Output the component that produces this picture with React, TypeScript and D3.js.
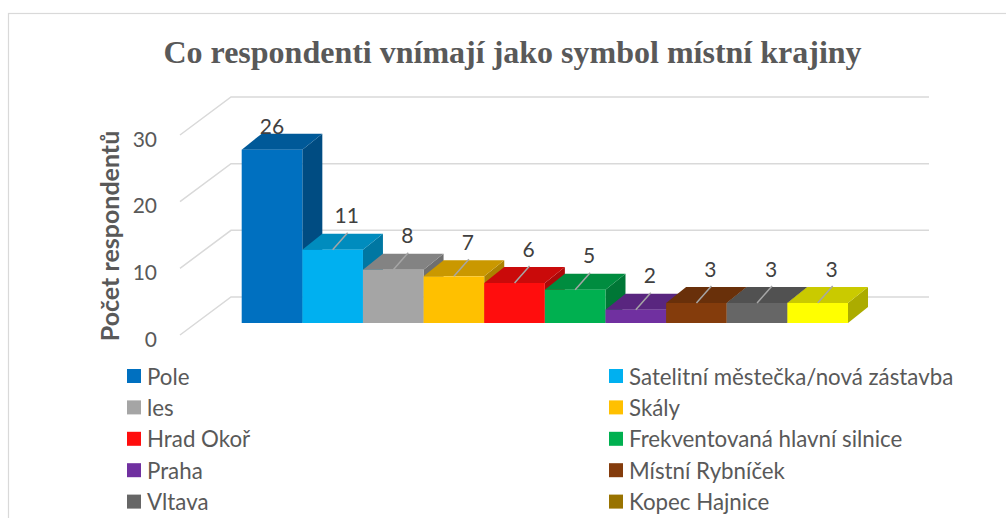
import React from "react";
import * as d3 from "d3";

const categories = [
  "Pole",
  "Satelitní městečka/nová zástavba",
  "les",
  "Skály",
  "Hrad Okoř",
  "Frekventovaná hlavní silnice",
  "Praha",
  "Místní Rybníček",
  "Vltava",
  "Kopec Hajnice",
];
const values = [26, 11, 8, 7, 6, 5, 2, 3, 3, 3];
const yTicks = [0, 10, 20, 30];
const barColors = [
  "#0070C0", "#00B0F0", "#A5A5A5", "#FFC000", "#FF0D0D",
  "#00B050", "#7030A0", "#843C0C", "#666666", "#FFFF00",
];
const legendColors = [
  "#0070C0", "#00B0F0", "#A5A5A5", "#FFC000", "#FF0D0D",
  "#00B050", "#7030A0", "#843C0C", "#666666", "#997300",
];
const title = "Co respondenti vnímají jako symbol místní krajiny";
const yTitle = "Počet respondentů";

const W = 1006;
const H = 518;
const FONT = "Lato, 'Open Sans', sans-serif";

export default function App() {
  const floorX = 180;
  const floorY = 335;
  const dX = 51;
  const dY = -38;
  const wallRight = 929;
  const yScale = d3.scaleLinear().domain([0, 30]).range([0, 200]);

  const xBand = d3.scaleBand<string>().domain(categories).range([241.7, 848]).padding(0);
  const barBase = 323;
  const bdx = 20;
  const bdy = -16;

  const line = d3.line<[number, number]>();

  return (
    <svg
      width={W}
      height={H}
      style={{ position: "absolute", left: 0, top: 0, background: "#fff" }}
    >
      <rect x={0} y={0} width={W} height={H} fill="#fff" />
      <rect x={8.5} y={13.5} width={1020} height={540} fill="none" stroke="#D9D9D9" strokeWidth={1.2} />
      <text
        x={512.5}
        y={63}
        textAnchor="middle"
        fontFamily="'Liberation Serif', 'Times New Roman', serif"
        fontWeight="bold"
        fontSize={32}
        fill="#595959"
      >
        {title}
      </text>

      {/* gridlines: left wall diagonals + back wall */}
      {yTicks.map((t) => {
        const y0 = floorY - yScale(t);
        return (
          <g key={t}>
            <path
              d={line([[floorX, y0], [floorX + dX, y0 + dY], [wallRight, y0 + dY]]) || ""}
              fill="none"
              stroke="#D9D9D9"
              strokeWidth={1.5}
            />
            <text
              x={157}
              y={y0 + 3}
              textAnchor="end"
              dominantBaseline="central"
              fontFamily={FONT}
              fontSize={21}
              fill="#595959"
            >
              {t}
            </text>
          </g>
        );
      })}

      <text
        transform={`translate(119,236) rotate(-90)`}
        textAnchor="middle"
        fontFamily={FONT}
        fontWeight="bold"
        fontSize={25}
        fill="#595959"
      >
        {yTitle}
      </text>

      {/* bars */}
      {categories.map((c, i) => {
        const x0 = xBand(c)!;
        const x1 = x0 + xBand.bandwidth();
        const top = barBase - yScale(values[i]);
        const col = d3.rgb(barColors[i]);
        const topCol = col.darker(0.65).formatHex();
        const sideCol = col.darker(1.1).formatHex();
        const side = line([[x1, barBase], [x1, top], [x1 + bdx, top + bdy], [x1 + bdx, barBase + bdy]]) + "Z";
        const topFace = line([[x0, top], [x0 + bdx, top + bdy], [x1 + bdx, top + bdy], [x1, top]]) + "Z";
        return (
          <g key={c}>
            <path d={side} fill={sideCol} />
            <path d={topFace} fill={topCol} />
            <rect x={x0} y={top} width={x1 - x0} height={barBase - top} fill={barColors[i]} />
          </g>
        );
      })}

      {/* data labels */}
      {categories.map((c, i) => {
        const cx = xBand(c)! + xBand.bandwidth() / 2;
        const top = barBase - yScale(values[i]);
        if (i === 0) {
          return (
            <text
              key={c}
              x={cx}
              y={top - 24}
              textAnchor="middle"
              dominantBaseline="central"
              fontFamily={FONT}
              fontSize={21}
              fill="#404040"
            >
              {values[i]}
            </text>
          );
        }
        return (
          <g key={c}>
            <path
              d={line([[cx, top], [cx + 15, top - 17]]) || ""}
              stroke="#A6A6A6"
              strokeWidth={1.5}
              fill="none"
            />
            <text
              x={cx + 14}
              y={top - 35}
              textAnchor="middle"
              dominantBaseline="central"
              fontFamily={FONT}
              fontSize={21}
              fill="#404040"
            >
              {values[i]}
            </text>
          </g>
        );
      })}

      {/* legend */}
      {categories.map((c, i) => {
        const col = i % 2;
        const row = Math.floor(i / 2);
        const mx = col === 0 ? 127 : 609;
        const cy = 376 + row * 31.4;
        return (
          <g key={c}>
            <rect x={mx} y={cy - 7} width={14} height={14} fill={legendColors[i]} />
            <text
              x={mx + 20}
              y={cy}
              dominantBaseline="central"
              fontFamily={FONT}
              fontSize={22.3}
              fill="#595959"
            >
              {c}
            </text>
          </g>
        );
      })}
    </svg>
  );
}
